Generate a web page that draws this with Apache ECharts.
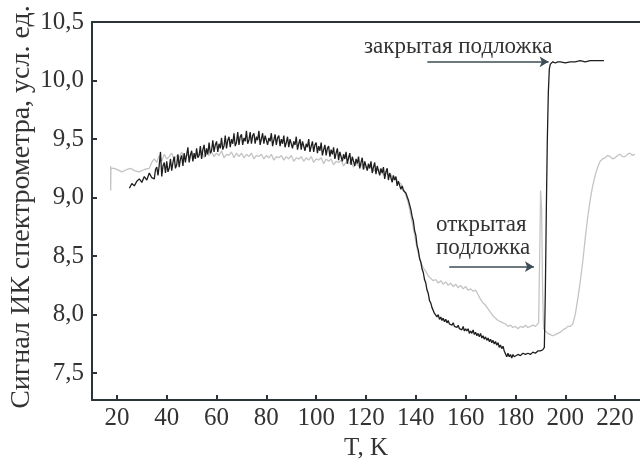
<!DOCTYPE html>
<html>
<head>
<meta charset="utf-8">
<script src="https://cdn.jsdelivr.net/npm/echarts@6/dist/echarts.min.js"></script>
<style>
html,body{margin:0;padding:0;background:#fff;}
#c{width:640px;height:466px;}
</style>
</head>
<body>
<div id="c"></div>
<script>
// Tick labels
var xTicks = [20, 40, 60, 80, 100, 120, 140, 160, 180, 200, 220];
var yTicks = [7.5, 8.0, 8.5, 9.0, 9.5, 10.0, 10.5];

// Closed substrate ("закрытая подложка"): temperatures and signal
var closedT = [25,26,27,28,29,30,31,32,33,34,35,35.5,
36,36.5,37,37.5,38,38.5,39,39.5,40,40.5,41,41.5,42,42.5,43,43.5,44,44.5,45,45.5,46,46.5,47,47.5,48,48.5,49,49.5,
50,50.5,51,51.5,52,52.5,53,53.5,54,54.5,55,55.5,56,56.5,57,57.5,58,58.5,59,59.5,
60,60.5,61,61.5,62,62.5,63,63.5,64,64.5,65,65.5,66,66.5,67,67.5,68,68.5,69,69.5,
70,70.5,71,71.5,72,72.5,73,73.5,74,74.5,75,75.5,76,76.5,77,77.5,78,78.5,79,79.5,
80,80.5,81,81.5,82,82.5,83,83.5,84,84.5,85,85.5,86,86.5,87,87.5,88,88.5,89,89.5,
90,90.5,91,91.5,92,92.5,93,93.5,94,94.5,95,95.5,96,96.5,97,97.5,98,98.5,99,99.5,
100,100.5,101,101.5,102,102.5,103,103.5,104,104.5,105,105.5,106,106.5,107,107.5,108,108.5,109,109.5,
110,110.5,111,111.5,112,112.5,113,113.5,114,114.5,115,115.5,116,116.5,117,117.5,118,118.5,119,119.5,
120,120.5,121,121.5,122,122.5,123,123.5,124,124.5,125,125.5,126,126.5,127,127.5,128,128.5,129,129.5,
130,130.5,131,131.5,132,132.5,133,133.5,134,134.5,135,
136,136.5,137,137.5,138,138.5,139,139.5,140,140.5,141,141.5,142,142.5,143,143.5,144,144.5,145,145.5,146,146.5,147,147.5,148,148.5,149,149.5,
150,150.5,151,151.5,152,152.5,153,153.5,154,154.5,155,155.5,156,156.5,157,157.5,158,158.5,159,159.5,
160,160.5,161,161.5,162,162.5,163,163.5,164,164.5,165,165.5,166,166.5,167,167.5,168,168.5,169,169.5,
170,170.5,171,171.5,172,172.5,173,173.5,174,174.5,175,175.5,176,176.5,177,177.5,178,178.5,179,179.5,
180,181,182,183,184,185,186,187,188,189,190,191,191.6,192,192.4,192.8,193.2,193.6,194,195,196,197,198,200,202,204,206,208,210,212,214,215.5];
var closedS = [9.08,9.12,9.10,9.14,9.16,9.13,9.18,9.15,9.21,9.17,9.16,9.24,
9.26,9.19,9.28,9.39,9.18,9.27,9.30,9.21,9.31,9.22,9.25,9.33,9.23,9.30,9.35,9.25,9.28,9.37,9.26,9.33,9.36,9.27,9.38,9.30,9.29,9.43,9.30,9.36,
9.40,9.31,9.38,9.33,9.42,9.34,9.36,9.44,9.33,9.41,9.45,9.35,9.42,9.37,9.47,9.38,9.40,9.49,9.39,9.45,
9.48,9.39,9.46,9.42,9.51,9.41,9.44,9.53,9.42,9.49,9.52,9.43,9.50,9.46,9.55,9.44,9.47,9.56,9.45,9.52,
9.54,9.45,9.51,9.48,9.57,9.46,9.49,9.56,9.46,9.53,9.55,9.46,9.52,9.49,9.57,9.45,9.50,9.55,9.46,9.53,
9.54,9.45,9.51,9.48,9.55,9.44,9.49,9.54,9.45,9.51,9.53,9.44,9.50,9.46,9.53,9.43,9.47,9.52,9.43,9.50,
9.51,9.42,9.48,9.45,9.52,9.41,9.46,9.50,9.41,9.48,9.49,9.40,9.46,9.43,9.50,9.39,9.44,9.48,9.39,9.45,
9.47,9.38,9.44,9.40,9.47,9.36,9.41,9.45,9.36,9.42,9.44,9.35,9.41,9.37,9.43,9.33,9.38,9.42,9.32,9.39,
9.40,9.31,9.37,9.33,9.39,9.29,9.34,9.38,9.28,9.35,9.36,9.27,9.33,9.29,9.35,9.25,9.30,9.34,9.24,9.31,
9.32,9.23,9.29,9.25,9.31,9.21,9.26,9.30,9.20,9.27,9.27,9.19,9.25,9.21,9.26,9.16,9.22,9.25,9.15,9.21,
9.21,9.13,9.19,9.15,9.18,9.10,9.14,9.13,9.07,9.10,9.06,
9.04,9.01,8.98,8.94,8.90,8.84,8.80,8.72,8.68,8.59,8.55,8.48,8.45,8.39,8.36,8.30,8.27,8.21,8.18,8.12,8.10,8.06,8.05,8.01,8.02,7.98,8.00,7.96,
7.98,7.95,7.97,7.94,7.96,7.93,7.95,7.92,7.93,7.91,7.93,7.90,7.91,7.89,7.91,7.88,7.89,7.87,7.90,7.86,
7.88,7.86,7.88,7.84,7.86,7.84,7.87,7.83,7.85,7.82,7.84,7.81,7.84,7.80,7.82,7.79,7.81,7.78,7.80,7.77,
7.79,7.76,7.78,7.75,7.77,7.74,7.76,7.72,7.74,7.71,7.73,7.69,7.70,7.64,7.67,7.64,7.66,7.63,7.66,7.64,
7.65,7.66,7.65,7.67,7.66,7.67,7.66,7.68,7.67,7.69,7.69,7.70,7.72,8.20,8.90,9.50,9.90,10.10,10.14,10.16,10.15,10.16,10.16,10.15,10.16,10.16,10.17,10.16,10.17,10.17,10.17,10.17];

// Open substrate ("открытая подложка"): temperatures and signal
var openT = [17.5,17.5,17.6,19,21,22,24,25.5,27,29,31,33,34,35,
36,37,38,39,40,41,42,43,44,45,46,47,48,49,50,51,52,53,54,55,56,57,58,59,60,61,62,63,64,65,66,67,68,69,
70,71,72,73,74,75,76,77,78,79,80,81,82,83,84,85,86,87,88,89,90,91,92,93,94,95,96,97,98,99,
100,101,102,103,104,105,106,107,108,109,110,111,112,113,114,115,116,117,118,119,120,121,122,123,124,125,126,127,128,129,
130,131,132,133,134,135,136,137,138,139,140,141,142,143,144,145,146,147,148,149,150,151,152,153,154,155,156,157,158,159,
160,161,162,163,164,165,166,167,168,169,170,171,172,173,174,175,176,177,178,179,180,181,182,183,184,185,186,187,188,
189.3,189.8,190.1,190.5,190.9,191.3,192,193,194,195,196,197,198,199,200,201,202,203,204,205,206,207,208,209,210,211,212,213,214,215,216,217,218,219,220,221,222,223,224,225,226,227,228];
var openS = [9.27,9.06,9.25,9.25,9.23,9.22,9.24,9.25,9.23,9.22,9.24,9.25,9.30,9.33,
9.30,9.36,9.31,9.37,9.33,9.35,9.38,9.32,9.36,9.34,9.39,9.33,9.37,9.35,9.39,9.34,9.37,9.36,9.40,9.34,9.38,9.36,9.39,9.35,9.38,9.36,9.40,9.34,9.37,9.36,9.39,9.34,9.38,9.35,
9.38,9.34,9.37,9.35,9.38,9.33,9.36,9.35,9.37,9.33,9.36,9.34,9.37,9.32,9.35,9.34,9.36,9.32,9.35,9.33,9.36,9.31,9.34,9.33,9.35,9.31,9.34,9.32,9.35,9.30,
9.33,9.32,9.34,9.29,9.33,9.31,9.33,9.28,9.31,9.30,9.32,9.27,9.30,9.29,9.31,9.26,9.29,9.27,9.29,9.24,9.27,9.25,9.27,9.22,9.25,9.23,9.24,9.19,9.22,9.19,
9.20,9.15,9.17,9.13,9.12,9.08,9.02,8.95,8.85,8.74,8.62,8.52,8.45,8.40,8.37,8.33,8.31,8.29,8.30,8.27,8.29,8.26,8.28,8.25,8.27,8.24,8.26,8.23,8.25,8.22,
8.24,8.21,8.22,8.20,8.21,8.17,8.13,8.10,8.08,8.05,8.02,7.99,7.97,7.95,7.94,7.93,7.92,7.90,7.91,7.89,7.90,7.88,7.90,7.89,7.91,7.89,7.90,7.91,7.90,
7.93,8.60,9.06,8.90,8.20,7.88,7.86,7.84,7.83,7.82,7.83,7.84,7.85,7.87,7.88,7.90,7.90,7.92,8.00,8.13,8.28,8.45,8.65,8.83,8.98,9.10,9.19,9.26,9.31,9.33,9.34,9.36,9.35,9.33,9.34,9.36,9.37,9.35,9.35,9.37,9.38,9.36,9.37];

function pairs(a, b) { var r = []; for (var i = 0; i < a.length; i++) r.push([a[i], b[i]]); return r; }

var FONT = 'Liberation Serif';
var AX = '#2b3538';
var TXT = '#333333';
var ARROW = '#3d4d55';

var chart = echarts.init(document.getElementById('c'), null, {renderer: 'canvas'});
chart.setOption({
  animation: false,
  backgroundColor: '#ffffff',
  grid: {left: 92, top: 22, right: -1, bottom: 64, containLabel: false},
  xAxis: [{
    type: 'value', min: 10, max: 230,
    name: 'T, K', nameLocation: 'middle', nameGap: 33,
    nameTextStyle: {fontFamily: FONT, fontSize: 25, color: TXT},
    axisLine: {show: true, lineStyle: {color: AX, width: 2}},
    axisTick: {show: true, inside: true, length: 5, lineStyle: {color: AX, width: 2}, customValues: xTicks},
    axisLabel: {show: true, margin: 6, fontFamily: FONT, fontSize: 25, color: TXT, customValues: xTicks},
    splitLine: {show: false}
  }, {
    type: 'value', min: 10, max: 230, position: 'top',
    axisLine: {show: true, lineStyle: {color: AX, width: 2}},
    axisTick: {show: false}, axisLabel: {show: false}, splitLine: {show: false}
  }],
  yAxis: {
    type: 'value', min: 7.27, max: 10.5,
    axisLine: {show: true, lineStyle: {color: AX, width: 2}},
    axisTick: {show: true, inside: true, length: 5, lineStyle: {color: AX, width: 2}, customValues: yTicks},
    axisLabel: {show: true, margin: 8, fontFamily: FONT, fontSize: 25, color: TXT, customValues: yTicks,
      formatter: function (v) { return v.toFixed(1).replace('.', ','); }},
    splitLine: {show: false}
  },
  series: [{
    type: 'line', name: 'закрытая', data: pairs(closedT, closedS),
    showSymbol: false, symbol: 'none',
    lineStyle: {color: '#1e1e1e', width: 1.3},
    z: 3,
    markLine: {
      silent: true, symbol: ['none', 'arrow'], symbolSize: [8, 9],
      label: {show: false},
      lineStyle: {color: ARROW, width: 1.5, type: 'solid'},
      data: [
        [{coord: [144.6, 10.16]}, {coord: [193.3, 10.16]}],
        [{coord: [153.4, 8.41]}, {coord: [187.4, 8.41]}]
      ]
    }
  }, {
    type: 'line', name: 'открытая', data: pairs(openT, openS),
    showSymbol: false, symbol: 'none',
    lineStyle: {color: '#c4c4c4', width: 1.3},
    z: 2
  }],
  graphic: [
    {type: 'text', x: 22, y: 207, rotation: Math.PI / 2,
      style: {text: 'Сигнал ИК спектрометра, усл. ед.', fontFamily: FONT, fontSize: 28, fill: TXT, align: 'center', verticalAlign: 'middle'}},
    {type: 'text', left: 364, top: 35, style: {text: 'закрытая подложка', fontFamily: FONT, fontSize: 23, fill: TXT}},
    {type: 'text', left: 436, top: 213, style: {text: 'открытая', fontFamily: FONT, fontSize: 23, fill: TXT}},
    {type: 'text', left: 436, top: 236, style: {text: 'подложка', fontFamily: FONT, fontSize: 23, fill: TXT}}
  ]
});
</script>
</body>
</html>
